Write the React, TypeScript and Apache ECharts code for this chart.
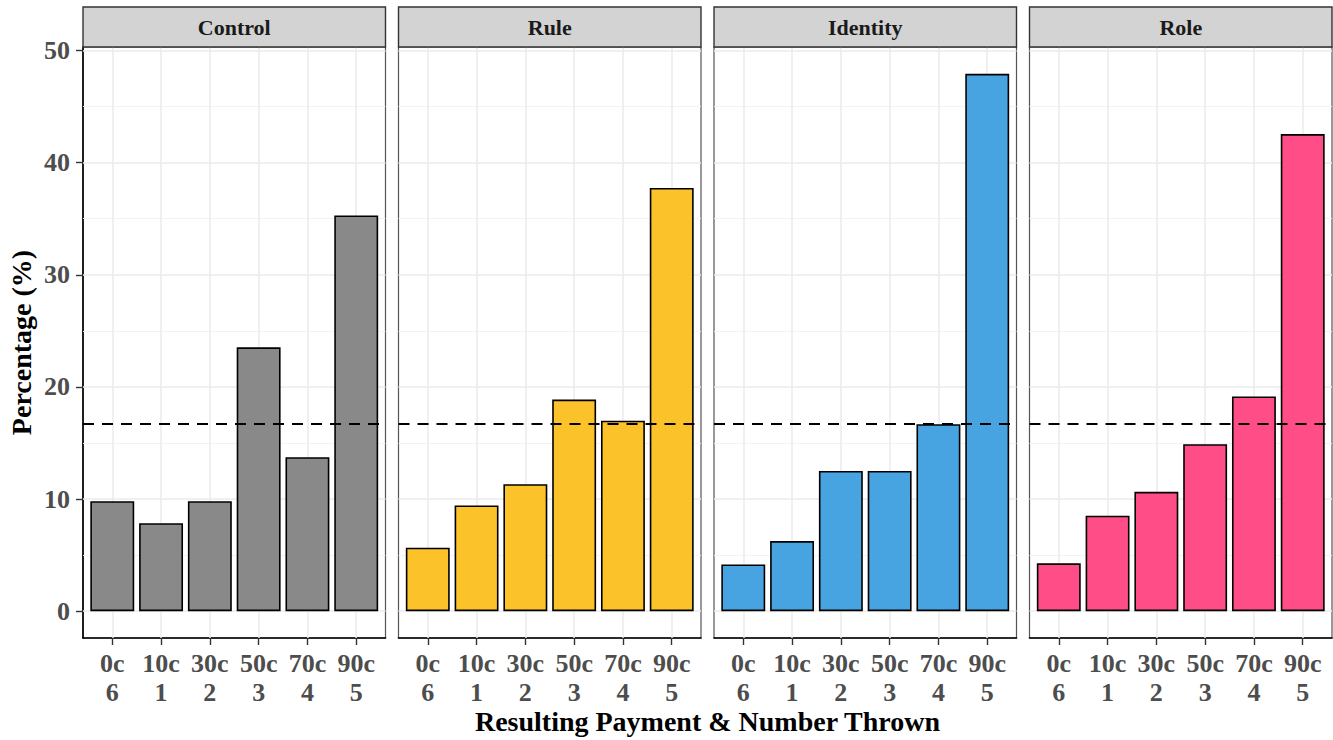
import React, { useEffect, useRef } from "react";
import * as echarts from "echarts";

const panels = ["Control", "Rule", "Identity", "Role"];
const payments = ["0c", "10c", "30c", "50c", "70c", "90c"];
const numbersThrown = ["6", "1", "2", "3", "4", "5"];
const controlValues = [9.8, 7.84, 9.8, 23.53, 13.73, 35.29];
const ruleValues = [5.66, 9.43, 11.32, 18.87, 16.98, 37.74];
const identityValues = [4.17, 6.25, 12.5, 12.5, 16.67, 47.92];
const roleValues = [4.26, 8.51, 10.64, 14.89, 19.15, 42.55];
const referenceLine = 16.67;
const yTicks = [0, 10, 20, 30, 40, 50];
const yMinorTicks = [5, 15, 25, 35, 45];
const xPositions = [1, 2, 3, 4, 5, 6];

const seriesValues = [controlValues, ruleValues, identityValues, roleValues];
const colors = ["#898989", "#FCC22A", "#48A4E1", "#FF4D87"];

const FONT = "'Liberation Serif', 'Times New Roman', serif";
const PANEL_LEFTS = [83, 398.5, 714, 1029.5];
const PANEL_W = 302.5;
const PANEL_TOP = 47;
const PANEL_H = 591;

export default function App() {
  const ref = useRef<HTMLDivElement>(null);

  useEffect(() => {
    if (!ref.current) return;
    const chart = echarts.init(ref.current, null, { renderer: "svg" });

    const allMax = Math.max(...seriesValues.flat());
    const expand = allMax * 0.05;

    const grids = PANEL_LEFTS.map((left) => ({
      left,
      top: PANEL_TOP,
      width: PANEL_W,
      height: PANEL_H,
      show: true,
      borderColor: "#555555",
      borderWidth: 1.2,
      backgroundColor: "#ffffff",
      containLabel: false,
      outerBoundsMode: "none",
    }));

    const xAxes = PANEL_LEFTS.map((_, i) => ({
      type: "value",
      gridIndex: i,
      min: 0.4,
      max: 6.6,
      splitLine: { show: false },
      axisLine: { show: true, onZero: false, lineStyle: { color: "#000", width: 1.6 } },
      axisTick: {
        show: true,
        customValues: xPositions,
        length: 7,
        lineStyle: { color: "#333", width: 1.4 },
      },
      axisLabel: {
        show: true,
        customValues: xPositions,
        margin: 11,
        color: "#4D4D4D",
        fontFamily: FONT,
        fontWeight: "bold",
        fontSize: 26,
        lineHeight: 29,
        formatter: (v: number) => {
          const k = Math.round(v) - 1;
          return k >= 0 && k < payments.length ? `${payments[k]}\n${numbersThrown[k]}` : "";
        },
      },
    }));

    const yAxes = PANEL_LEFTS.map((_, i) => ({
      type: "value",
      gridIndex: i,
      min: -expand,
      max: allMax + expand,
      splitLine: { show: false },
      name: i === 0 ? "Percentage (%)" : "",
      nameLocation: "middle",
      nameGap: 48,
      nameRotate: 90,
      nameTextStyle: { color: "#000", fontFamily: FONT, fontWeight: "bold", fontSize: 28 },
      axisLine: { show: i === 0, onZero: false, lineStyle: { color: "#000", width: 1.6 } },
      axisTick: {
        show: i === 0,
        customValues: yTicks,
        length: 7,
        lineStyle: { color: "#333", width: 1.4 },
      },
      axisLabel: {
        show: i === 0,
        customValues: yTicks,
        margin: 13,
        color: "#4D4D4D",
        fontFamily: FONT,
        fontWeight: "bold",
        fontSize: 26,
      },
    }));

    const gridLineData = [
      ...yMinorTicks.map((v) => ({ yAxis: v, lineStyle: { color: "#F2F2F2", width: 0.9, type: "solid" } })),
      ...yTicks.map((v) => ({ yAxis: v, lineStyle: { color: "#EBEBEB", width: 1.5, type: "solid" } })),
      ...xPositions.map((v) => ({ xAxis: v, lineStyle: { color: "#EBEBEB", width: 1.5, type: "solid" } })),
    ];

    const series: any[] = [];
    PANEL_LEFTS.forEach((_, i) => {
      series.push({
        type: "line",
        xAxisIndex: i,
        yAxisIndex: i,
        data: [],
        silent: true,
        z: 1,
        markLine: {
          silent: true,
          symbol: ["none", "none"],
          label: { show: false },
          emphasis: { disabled: true },
          z: 1,
          data: gridLineData,
        },
      });
      series.push({
        type: "bar",
        name: panels[i],
        xAxisIndex: i,
        yAxisIndex: i,
        data: seriesValues[i].map((v, j) => [xPositions[j], v]),
        barWidth: "90%",
        z: 3,
        itemStyle: { color: colors[i], borderColor: "#000", borderWidth: 1.6 },
        emphasis: { disabled: true },
        markLine: {
          silent: true,
          symbol: ["none", "none"],
          label: { show: false },
          emphasis: { disabled: true },
          z: 6,
          lineStyle: { color: "#000", width: 2, type: [11, 8] },
          data: [{ yAxis: referenceLine }],
        },
      });
    });

    const graphics: any[] = [];
    PANEL_LEFTS.forEach((left, i) => {
      graphics.push({
        type: "rect",
        shape: { x: left, y: 7, width: PANEL_W, height: PANEL_TOP - 7 },
        style: { fill: "#D3D3D3", stroke: "#333333", lineWidth: 1.4 },
        z: 10,
      });
      graphics.push({
        type: "text",
        x: left + PANEL_W / 2,
        y: 27,
        style: {
          text: panels[i],
          fill: "#1A1A1A",
          font: `bold 22px ${FONT}`,
          textAlign: "center",
          textVerticalAlign: "middle",
        },
        z: 11,
      });
    });
    graphics.push({
      type: "text",
      x: (PANEL_LEFTS[0] + PANEL_LEFTS[3] + PANEL_W) / 2,
      y: 721,
      style: {
        text: "Resulting Payment & Number Thrown",
        fill: "#000",
        font: `bold 28px ${FONT}`,
        textAlign: "center",
        textVerticalAlign: "middle",
      },
      z: 11,
    });

    chart.setOption({
      animation: false,
      backgroundColor: "#ffffff",
      grid: grids,
      xAxis: xAxes,
      yAxis: yAxes,
      series,
      graphic: graphics,
    });

    return () => chart.dispose();
  }, []);

  return (
    <div
      ref={ref}
      style={{ position: "fixed", left: 0, top: 0, width: 1333, height: 740 }}
    />
  );
}
